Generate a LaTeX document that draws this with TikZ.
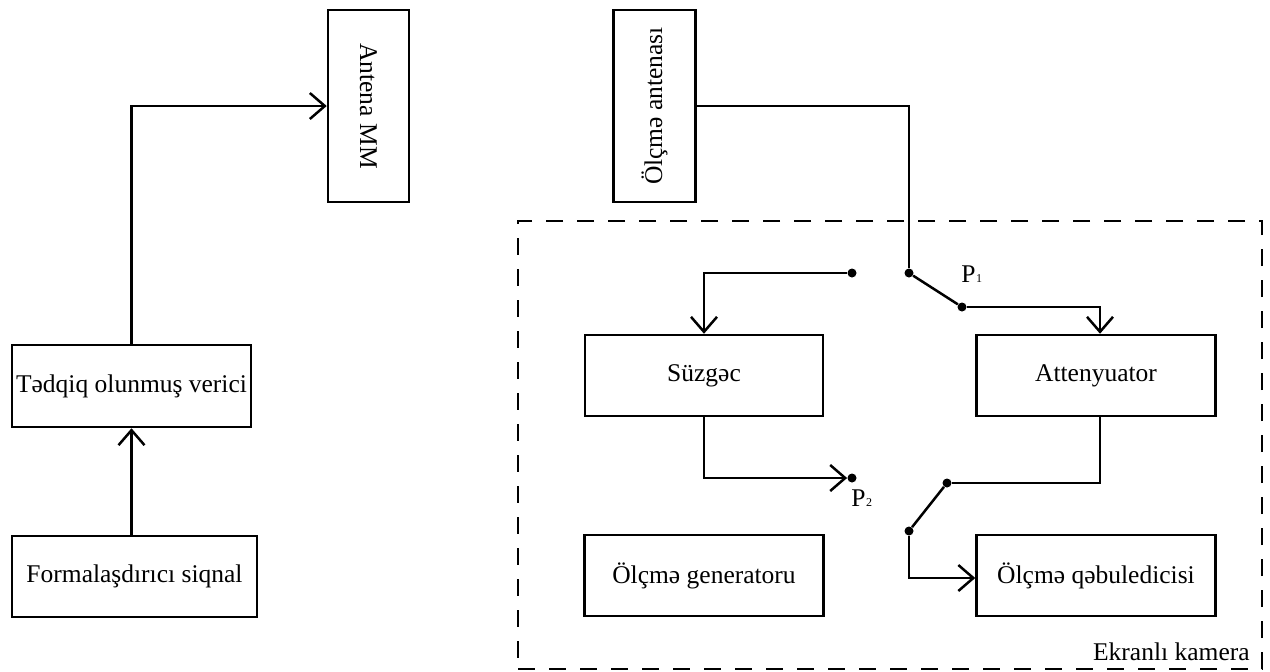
\documentclass[tikz,border=0pt]{standalone}
\usepackage{fontspec}
\setmainfont{Liberation Serif}
\usepackage{graphicx}
\usetikzlibrary{arrows.meta}

\begin{document}
\begin{tikzpicture}[x=0.5pt,y=-0.5pt,
  every node/.style={font=\fontsize{12.75}{15}\selectfont},
  blk/.style={draw,line width=1.25pt,inner sep=0pt,rectangle},
  wire/.style={line width=1.25pt},
  arr/.style={wire,-{Straight Barb[length=7.5pt,width=13pt]}},
  pin/.style={circle,fill,inner sep=0pt,minimum size=4.5pt},
  shield/.style={draw,line width=1.3pt,dash pattern=on 8.5pt off 7pt,inner sep=0pt},
  tag/.style={anchor=base west,inner sep=0pt},
  small/.style={font=\fontsize{6}{6}\selectfont}
]
\useasboundingbox (0,0) rectangle (1270,671);

% transmitter side
\node[blk,minimum width=40.5pt,minimum height=96pt] (antmm) at (368.5,106) {\rotatebox{-90}{Antena MM}};
\node[blk,minimum width=119.5pt,minimum height=41pt] (verici) at (131.5,386) {Tədqiq olunmuş verici};
\node[blk,minimum width=122.5pt,minimum height=40.5pt] (formal) at (134.5,576.5) {Formalaşdırıcı siqnal};

% measuring side
\node[blk,minimum width=41pt,minimum height=96pt] (olcant) at (654.5,106) {\rotatebox{90}{Ölçmə antenası}};
\node[shield,minimum width=372pt,minimum height=224pt] (kamera) at (890,445) {};
\node[anchor=base east,inner sep=0pt] (kameralbl) at (1250,660) {Ekranlı kamera};

\node[blk,minimum width=119pt,minimum height=40.5pt] (suzgec) at (704,375.5) {Süzgəc};
\node[blk,minimum width=119.5pt,minimum height=40.5pt] (atten) at (1096,375.5) {Attenyuator};
\node[blk,minimum width=119.5pt,minimum height=40.5pt] (gen) at (704,575.5) {Ölçmə generatoru};
\node[blk,minimum width=119.5pt,minimum height=40.5pt] (qebul) at (1096,575.5) {Ölçmə qəbuledicisi};

% switch contacts
\node[pin] (pa) at (909,273) {};
\node[pin] (pb) at (852,273) {};
\node[pin] (pc) at (962,307) {};
\node[pin] (pd) at (852,478) {};
\node[pin] (pe) at (947,483) {};
\node[pin] (pf) at (909,531) {};

\node[tag] (p1) at (961,282) {P\kern0.3pt{\fontsize{6}{6}\selectfont 1}};
\node[tag] (p2) at (851,506) {P\kern0.3pt{\fontsize{6}{6}\selectfont 2}};

% connections
\draw[arr] (formal.north -| verici.south) -- (verici.south);
\draw[arr] (verici.north) |- (antmm.west);

\draw[wire] (olcant.east) -| (pa);
\draw[wire] (pa) -- (pc);
\draw[arr] (pc) -| ([xshift=2pt]atten.north);
\draw[arr] (pb) -| (suzgec.north);
\draw[arr] (suzgec.south) |- (pd);
\draw[wire] ([xshift=2pt]atten.south) |- (pe);
\draw[wire] (pe) -- (pf);
\draw[arr] (pf) |- ([yshift=-1.25pt]qebul.west);
\end{tikzpicture}
\end{document}
